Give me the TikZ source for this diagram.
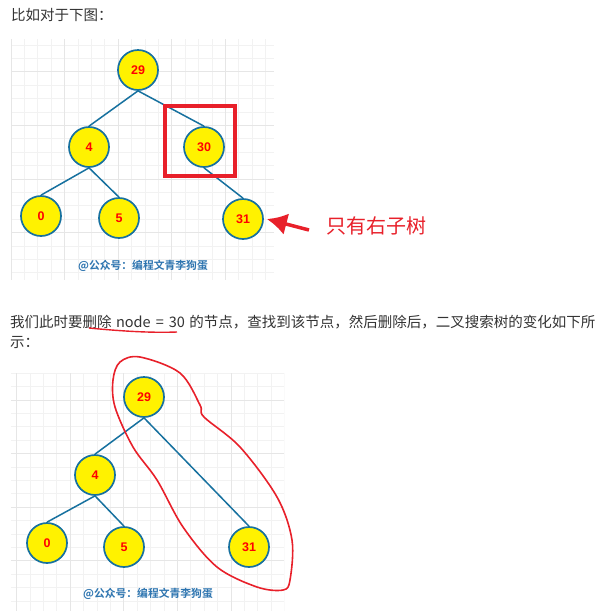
\documentclass[tikz,border=0pt]{standalone}
\usepackage{fontspec}
\setmainfont{Noto Sans CJK SC}[BoldFont={Noto Sans CJK SC Bold}]
\newfontfamily\numfont{Liberation Sans}
\usetikzlibrary{arrows.meta}
\definecolor{bodytext}{HTML}{333333}
\definecolor{nodeline}{HTML}{17719F}
\definecolor{markred}{HTML}{E8202A}
\definecolor{wmblue}{HTML}{2E75B0}
\definecolor{gridminor}{HTML}{F2F2F2}
\definecolor{gridmajor}{HTML}{E6E6E6}

\begin{document}
\begin{tikzpicture}[x=1pt,y=-1pt,
    key/.style={circle,draw=nodeline,fill=yellow,line width=1.7pt,minimum size=40pt,inner sep=0pt,
        font=\numfont\bfseries\fontsize{12.5}{12.5}\selectfont,text=red},
    link/.style={draw=nodeline,line width=1.5pt},
    para/.style={anchor=west,inner sep=0pt,text=bodytext,font=\fontsize{14.5}{16}\selectfont},
    stamp/.style={anchor=center,inner sep=0pt,text=wmblue,font=\bfseries\fontsize{10.8}{12}\selectfont}]
    \useasboundingbox (0,0) rectangle (612,611);
    \fill[white] (0,0) rectangle (612,611);

    % grids
    \begin{scope}
        \clip (11,39) rectangle (274,280);
        \foreach \i in {0,...,19} \draw[gridminor,line width=1pt] (11+13.4*\i,39) -- (11+13.4*\i,280);
        \foreach \i in {0,...,17} \draw[gridminor,line width=1pt] (11,45+13.4*\i) -- (274,45+13.4*\i);
        \foreach \i in {0,4,...,19} \draw[gridmajor,line width=1pt] (11+13.4*\i,39) -- (11+13.4*\i,280);
        \foreach \i in {2,6,...,17} \draw[gridmajor,line width=1pt] (11,45+13.4*\i) -- (274,45+13.4*\i);
    \end{scope}
    \begin{scope}
        \clip (11,373) rectangle (284,611);
        \foreach \i in {-1,...,19} \draw[gridminor,line width=1pt] (30+13.4*\i,373) -- (30+13.4*\i,611);
        \foreach \i in {0,...,18} \draw[gridminor,line width=1pt] (11,373.3+13.4*\i) -- (284,373.3+13.4*\i);
        \foreach \i in {-1,3,...,19} \draw[gridmajor,line width=1pt] (30+13.4*\i,373) -- (30+13.4*\i,611);
        \foreach \i in {2,6,...,18} \draw[gridmajor,line width=1pt] (11,373.3+13.4*\i) -- (284,373.3+13.4*\i);
    \end{scope}

    % texts
    \node[para] (title) at (11,15) {比如对于下图：};
    \node[para] (line1) at (10,322) {我们此时要删除\hspace{0.3em}node\hspace{0.35em}=\hspace{0.35em}30\hspace{0.3em}的节点，查找到该节点，然后删除后，二叉搜索树的变化如下所};
    \node[para] (line2) at (10,343) {示：};

    % first tree
    \node[key] (a29) at (138,70) {29};
    \node[key] (a4) at (89,147) {4};
    \node[key] (a30) at (204,147) {30};
    \node[key] (a0) at (41,216) {0};
    \node[key] (a5) at (119,218) {5};
    \node[key] (a31) at (243,219) {31};
    \path[link] (a29.south) -- (a4.north);
    \path[link] (a29.south) -- (a30.north);
    \path[link] (a4.south) -- (a0.north);
    \path[link] (a4.south) -- (a5.north);
    \path[link] (a30.south) -- (a31.north);
    \draw[markred,line width=4pt] (165,106) rectangle (235,176);
    \node[stamp] (wm1) at (143,266) {@公众号：编程文青李狗蛋};

    \coordinate (tail) at (309,230);
    \draw[markred,line width=3.5pt,-{Latex[length=20pt,width=22pt]}] (tail) -- ([xshift=3pt]a31.east);
    \node[anchor=west,inner sep=0pt,text=markred,font=\fontsize{20}{22}\selectfont] (only) at (326,226) {只有右子树};

    % second tree
    \node[key] (b29) at (144,397) {29};
    \node[key] (b4) at (95,475) {4};
    \node[key] (b0) at (47,543) {0};
    \node[key] (b5) at (124,547) {5};
    \node[key] (b31) at (249,547) {31};
    \path[link] (b29.south) -- (b4.north);
    \path[link] (b29.south) -- (b31.north);
    \path[link] (b4.south) -- (b0.north);
    \path[link] (b4.south) -- (b5.north);
    \node[stamp] (wm2) at (148,594) {@公众号：编程文青李狗蛋};

    % hand marks
    \draw[markred,line width=1.4pt] (89,328) .. controls (120,331) and (150,333) .. (177,332);
    \draw[markred,line width=1.6pt] plot[smooth cycle,tension=0.55] coordinates {
        (140,357) (180,373) (200,405) (204,417) (240,447) (277,497) (292,540)
        (290,580) (283,590) (257,587) (217,567) (183,527) (157,480) (133,447)
        (115,407) (113,380) (120,362)};
\end{tikzpicture}
\end{document}
